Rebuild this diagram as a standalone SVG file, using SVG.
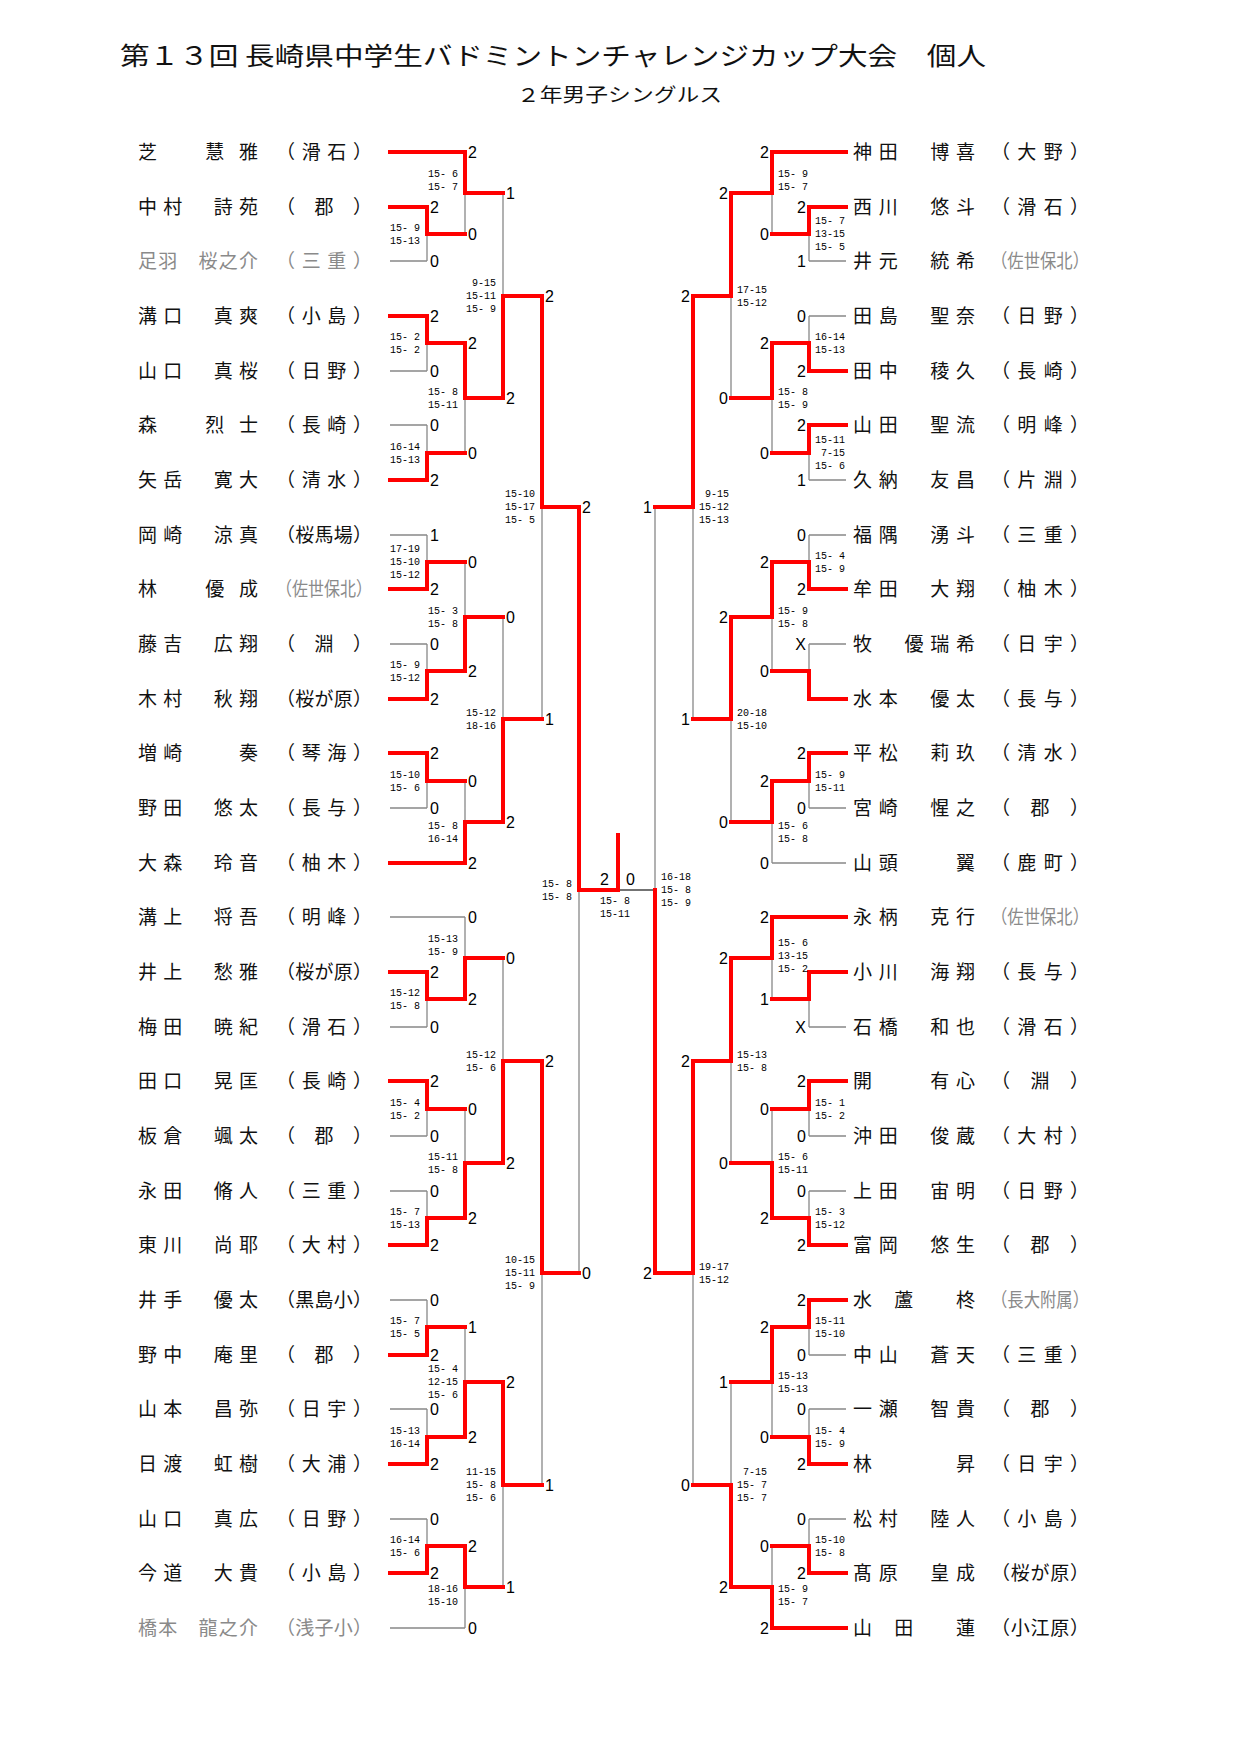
<svg xmlns="http://www.w3.org/2000/svg" width="1241" height="1755" viewBox="0 0 1241 1755">
<style>
.bg{fill:#fff}
.r{stroke:#f00;stroke-width:4;fill:none;stroke-linecap:square}
.g{stroke:#888;stroke-width:1.3;fill:none}
.k{stroke:#444;stroke-width:1.3;fill:none}
.n{font-family:"Noto Sans CJK JP","Noto Sans",sans-serif;font-size:19px;fill:#111}
.gy{fill:#8a8a8a}
.d{font-family:"Liberation Sans",Arial,sans-serif;font-size:16px;fill:#000}
.de{font-family:"Liberation Sans",Arial,sans-serif;font-size:16px;fill:#000;text-anchor:end}
.s{font-family:"Liberation Mono","DejaVu Sans Mono",monospace;font-size:10px;fill:#000;white-space:pre}
.se{font-family:"Liberation Mono","DejaVu Sans Mono",monospace;font-size:10px;fill:#000;white-space:pre;text-anchor:end}
.t{font-family:"Noto Sans CJK JP","Noto Sans",sans-serif;fill:#111}
</style>
<rect class="bg" width="1241" height="1755"/>
<text class="t" x="120" y="65" font-size="25" textLength="866" lengthAdjust="spacingAndGlyphs">第１３回 長崎県中学生バドミントンチャレンジカップ大会　個人</text>
<text class="t" x="517" y="102" font-size="19" textLength="205" lengthAdjust="spacingAndGlyphs">２年男子シングルス</text>
<g id="connectors">
<path class="g" d="M390 261H427M390 371H427M390 425H427M390 535H427M390 644H427M390 808H427M390 1027H427M390 1136H427M390 1191H427M390 1300H427M390 1409H427M390 1519H427M390 917H465M390 1628H465
M427 234V261M427 343V371M427 453V425M427 562V535M427 671V644M427 781V808M427 999V1027M427 1109V1136M427 1218V1191M427 1327V1300M427 1437V1409M427 1546V1519
M465 193V234M465 398V453M465 617V562M465 822V781M465 958V917M465 1163V1109M465 1382V1327M465 1587V1628
M503 296V193M503 719V617M503 1061V958M503 1485V1587M542 507V719M542 1273V1485M579 890V1273"/>
<path class="g" d="M846 261H809M846 316H809M846 480H809M846 535H809M846 644H809M846 808H809M846 1027H809M846 1136H809M846 1191H809M846 1355H809M846 1409H809M846 1519H809M846 863H772
M809 234V261M809 343V316M809 453V480M809 562V535M809 671V644M809 781V808M809 999V1027M809 1109V1136M809 1218V1191M809 1327V1355M809 1437V1409M809 1546V1519
M772 193V234M772 398V453M772 617V671M772 822V863M772 958V999M772 1163V1109M772 1382V1437M772 1587V1546
M731 296V398M731 719V822M731 1061V1163M731 1485V1382M693 507V719M693 1273V1485M655 890V507"/>
<path class="k" d="M618 890H655"/>
<path class="r" d="M390 152H465M390 207H427M390 316H427M390 480H427M390 589H427M390 699H427M390 753H427M390 863H465M390 972H427M390 1081H427M390 1245H427M390 1355H427M390 1464H427M390 1573H427
M427 234H465M427 343H465M427 453H465M427 562H465M427 671H465M427 781H465M427 999H465M427 1109H465M427 1218H465M427 1327H465M427 1437H465M427 1546H465
M465 193H503M465 398H503M465 617H503M465 822H503M465 958H503M465 1163H503M465 1382H503M465 1587H503
M503 296H542M503 719H542M503 1061H542M503 1485H542M542 507H579M542 1273H579M579 890H618V835
M427 207V234M427 316V343M427 480V453M427 589V562M427 699V671M427 753V781M427 972V999M427 1081V1109M427 1245V1218M427 1355V1327M427 1464V1437M427 1573V1546
M465 152V193M465 343V398M465 671V617M465 863V822M465 999V958M465 1218V1163M465 1437V1382M465 1546V1587
M503 398V296M503 822V719M503 1163V1061M503 1382V1485M542 296V507M542 1061V1273M579 507V890"/>
<path class="r" d="M846 152H772M846 207H809M846 371H809M846 425H809M846 589H809M846 699H809M846 753H809M846 917H772M846 972H809M846 1081H809M846 1245H809M846 1300H809M846 1464H809M846 1573H809M846 1628H772
M809 234H772M809 343H772M809 453H772M809 562H772M809 671H772M809 781H772M809 999H772M809 1109H772M809 1218H772M809 1327H772M809 1437H772M809 1546H772
M772 193H731M772 398H731M772 617H731M772 822H731M772 958H731M772 1163H731M772 1382H731M772 1587H731
M731 296H693M731 719H693M731 1061H693M731 1485H693M693 507H655M693 1273H655
M809 207V234M809 371V343M809 425V453M809 589V562M809 699V671M809 753V781M809 972V999M809 1081V1109M809 1245V1218M809 1300V1327M809 1464V1437M809 1573V1546
M772 152V193M772 343V398M772 562V617M772 781V822M772 917V958M772 1218V1163M772 1327V1382M772 1628V1587
M731 193V296M731 617V719M731 958V1061M731 1587V1485M693 296V507M693 1061V1273M655 1273V890"/>
</g>
<g id="left-players">
<g id="L0"><text class="n" x="138" y="159" textLength="120" lengthAdjust="spacing">芝　慧雅</text><text class="n" x="276" y="159" textLength="96" lengthAdjust="spacing">（滑石）</text></g>
<g id="L1"><text class="n" x="138" y="214" textLength="120" lengthAdjust="spacing">中村　詩苑</text><text class="n" x="276" y="214" textLength="96" lengthAdjust="spacing">（郡）</text></g>
<g id="L2"><text class="n gy" x="138" y="268" textLength="120" lengthAdjust="spacing">足羽　桜之介</text><text class="n gy" x="276" y="268" textLength="96" lengthAdjust="spacing">（三重）</text></g>
<g id="L3"><text class="n" x="138" y="323" textLength="120" lengthAdjust="spacing">溝口　真爽</text><text class="n" x="276" y="323" textLength="96" lengthAdjust="spacing">（小島）</text></g>
<g id="L4"><text class="n" x="138" y="378" textLength="120" lengthAdjust="spacing">山口　真桜</text><text class="n" x="276" y="378" textLength="96" lengthAdjust="spacing">（日野）</text></g>
<g id="L5"><text class="n" x="138" y="432" textLength="120" lengthAdjust="spacing">森　烈士</text><text class="n" x="276" y="432" textLength="96" lengthAdjust="spacing">（長崎）</text></g>
<g id="L6"><text class="n" x="138" y="487" textLength="120" lengthAdjust="spacing">矢岳　寛大</text><text class="n" x="276" y="487" textLength="96" lengthAdjust="spacing">（清水）</text></g>
<g id="L7"><text class="n" x="138" y="542" textLength="120" lengthAdjust="spacing">岡崎　涼真</text><text class="n" x="276" y="542" textLength="96" lengthAdjust="spacing">（桜馬場）</text></g>
<g id="L8"><text class="n" x="138" y="596" textLength="120" lengthAdjust="spacing">林　優成</text><text class="n gy" x="276" y="596" textLength="96" lengthAdjust="spacingAndGlyphs">（佐世保北）</text></g>
<g id="L9"><text class="n" x="138" y="651" textLength="120" lengthAdjust="spacing">藤吉　広翔</text><text class="n" x="276" y="651" textLength="96" lengthAdjust="spacing">（淵）</text></g>
<g id="L10"><text class="n" x="138" y="706" textLength="120" lengthAdjust="spacing">木村　秋翔</text><text class="n" x="276" y="706" textLength="96" lengthAdjust="spacing">（桜が原）</text></g>
<g id="L11"><text class="n" x="138" y="760" textLength="120" lengthAdjust="spacing">増崎　　奏</text><text class="n" x="276" y="760" textLength="96" lengthAdjust="spacing">（琴海）</text></g>
<g id="L12"><text class="n" x="138" y="815" textLength="120" lengthAdjust="spacing">野田　悠太</text><text class="n" x="276" y="815" textLength="96" lengthAdjust="spacing">（長与）</text></g>
<g id="L13"><text class="n" x="138" y="870" textLength="120" lengthAdjust="spacing">大森　玲音</text><text class="n" x="276" y="870" textLength="96" lengthAdjust="spacing">（柚木）</text></g>
<g id="L14"><text class="n" x="138" y="924" textLength="120" lengthAdjust="spacing">溝上　将吾</text><text class="n" x="276" y="924" textLength="96" lengthAdjust="spacing">（明峰）</text></g>
<g id="L15"><text class="n" x="138" y="979" textLength="120" lengthAdjust="spacing">井上　愁雅</text><text class="n" x="276" y="979" textLength="96" lengthAdjust="spacing">（桜が原）</text></g>
<g id="L16"><text class="n" x="138" y="1034" textLength="120" lengthAdjust="spacing">梅田　暁紀</text><text class="n" x="276" y="1034" textLength="96" lengthAdjust="spacing">（滑石）</text></g>
<g id="L17"><text class="n" x="138" y="1088" textLength="120" lengthAdjust="spacing">田口　晃匡</text><text class="n" x="276" y="1088" textLength="96" lengthAdjust="spacing">（長崎）</text></g>
<g id="L18"><text class="n" x="138" y="1143" textLength="120" lengthAdjust="spacing">板倉　颯太</text><text class="n" x="276" y="1143" textLength="96" lengthAdjust="spacing">（郡）</text></g>
<g id="L19"><text class="n" x="138" y="1198" textLength="120" lengthAdjust="spacing">永田　脩人</text><text class="n" x="276" y="1198" textLength="96" lengthAdjust="spacing">（三重）</text></g>
<g id="L20"><text class="n" x="138" y="1252" textLength="120" lengthAdjust="spacing">東川　尚耶</text><text class="n" x="276" y="1252" textLength="96" lengthAdjust="spacing">（大村）</text></g>
<g id="L21"><text class="n" x="138" y="1307" textLength="120" lengthAdjust="spacing">井手　優太</text><text class="n" x="276" y="1307" textLength="96" lengthAdjust="spacing">（黒島小）</text></g>
<g id="L22"><text class="n" x="138" y="1362" textLength="120" lengthAdjust="spacing">野中　庵里</text><text class="n" x="276" y="1362" textLength="96" lengthAdjust="spacing">（郡）</text></g>
<g id="L23"><text class="n" x="138" y="1416" textLength="120" lengthAdjust="spacing">山本　昌弥</text><text class="n" x="276" y="1416" textLength="96" lengthAdjust="spacing">（日宇）</text></g>
<g id="L24"><text class="n" x="138" y="1471" textLength="120" lengthAdjust="spacing">日渡　虹樹</text><text class="n" x="276" y="1471" textLength="96" lengthAdjust="spacing">（大浦）</text></g>
<g id="L25"><text class="n" x="138" y="1526" textLength="120" lengthAdjust="spacing">山口　真広</text><text class="n" x="276" y="1526" textLength="96" lengthAdjust="spacing">（日野）</text></g>
<g id="L26"><text class="n" x="138" y="1580" textLength="120" lengthAdjust="spacing">今道　大貴</text><text class="n" x="276" y="1580" textLength="96" lengthAdjust="spacing">（小島）</text></g>
<g id="L27"><text class="n gy" x="138" y="1635" textLength="120" lengthAdjust="spacing">橋本　龍之介</text><text class="n gy" x="276" y="1635" textLength="96" lengthAdjust="spacing">（浅子小）</text></g>
</g>
<g id="right-players">
<g id="R0"><text class="n" x="853" y="159" textLength="122" lengthAdjust="spacing">神田　博喜</text><text class="n" x="991" y="159" textLength="98" lengthAdjust="spacing">（大野）</text></g>
<g id="R1"><text class="n" x="853" y="214" textLength="122" lengthAdjust="spacing">西川　悠斗</text><text class="n" x="991" y="214" textLength="98" lengthAdjust="spacing">（滑石）</text></g>
<g id="R2"><text class="n" x="853" y="268" textLength="122" lengthAdjust="spacing">井元　統希</text><text class="n gy" x="991" y="268" textLength="98" lengthAdjust="spacingAndGlyphs">（佐世保北）</text></g>
<g id="R3"><text class="n" x="853" y="323" textLength="122" lengthAdjust="spacing">田島　聖奈</text><text class="n" x="991" y="323" textLength="98" lengthAdjust="spacing">（日野）</text></g>
<g id="R4"><text class="n" x="853" y="378" textLength="122" lengthAdjust="spacing">田中　稜久</text><text class="n" x="991" y="378" textLength="98" lengthAdjust="spacing">（長崎）</text></g>
<g id="R5"><text class="n" x="853" y="432" textLength="122" lengthAdjust="spacing">山田　聖流</text><text class="n" x="991" y="432" textLength="98" lengthAdjust="spacing">（明峰）</text></g>
<g id="R6"><text class="n" x="853" y="487" textLength="122" lengthAdjust="spacing">久納　友昌</text><text class="n" x="991" y="487" textLength="98" lengthAdjust="spacing">（片淵）</text></g>
<g id="R7"><text class="n" x="853" y="542" textLength="122" lengthAdjust="spacing">福隅　湧斗</text><text class="n" x="991" y="542" textLength="98" lengthAdjust="spacing">（三重）</text></g>
<g id="R8"><text class="n" x="853" y="596" textLength="122" lengthAdjust="spacing">牟田　大翔</text><text class="n" x="991" y="596" textLength="98" lengthAdjust="spacing">（柚木）</text></g>
<g id="R9"><text class="n" x="853" y="651" textLength="122" lengthAdjust="spacing">牧　優瑞希</text><text class="n" x="991" y="651" textLength="98" lengthAdjust="spacing">（日宇）</text></g>
<g id="R10"><text class="n" x="853" y="706" textLength="122" lengthAdjust="spacing">水本　優太</text><text class="n" x="991" y="706" textLength="98" lengthAdjust="spacing">（長与）</text></g>
<g id="R11"><text class="n" x="853" y="760" textLength="122" lengthAdjust="spacing">平松　莉玖</text><text class="n" x="991" y="760" textLength="98" lengthAdjust="spacing">（清水）</text></g>
<g id="R12"><text class="n" x="853" y="815" textLength="122" lengthAdjust="spacing">宮崎　惺之</text><text class="n" x="991" y="815" textLength="98" lengthAdjust="spacing">（郡）</text></g>
<g id="R13"><text class="n" x="853" y="870" textLength="122" lengthAdjust="spacing">山頭　　翼</text><text class="n" x="991" y="870" textLength="98" lengthAdjust="spacing">（鹿町）</text></g>
<g id="R14"><text class="n" x="853" y="924" textLength="122" lengthAdjust="spacing">永柄　克行</text><text class="n gy" x="991" y="924" textLength="98" lengthAdjust="spacingAndGlyphs">（佐世保北）</text></g>
<g id="R15"><text class="n" x="853" y="979" textLength="122" lengthAdjust="spacing">小川　海翔</text><text class="n" x="991" y="979" textLength="98" lengthAdjust="spacing">（長与）</text></g>
<g id="R16"><text class="n" x="853" y="1034" textLength="122" lengthAdjust="spacing">石橋　和也</text><text class="n" x="991" y="1034" textLength="98" lengthAdjust="spacing">（滑石）</text></g>
<g id="R17"><text class="n" x="853" y="1088" textLength="122" lengthAdjust="spacing">開　　有心</text><text class="n" x="991" y="1088" textLength="98" lengthAdjust="spacing">（淵）</text></g>
<g id="R18"><text class="n" x="853" y="1143" textLength="122" lengthAdjust="spacing">沖田　俊蔵</text><text class="n" x="991" y="1143" textLength="98" lengthAdjust="spacing">（大村）</text></g>
<g id="R19"><text class="n" x="853" y="1198" textLength="122" lengthAdjust="spacing">上田　宙明</text><text class="n" x="991" y="1198" textLength="98" lengthAdjust="spacing">（日野）</text></g>
<g id="R20"><text class="n" x="853" y="1252" textLength="122" lengthAdjust="spacing">富岡　悠生</text><text class="n" x="991" y="1252" textLength="98" lengthAdjust="spacing">（郡）</text></g>
<g id="R21"><text class="n" x="853" y="1307" textLength="122" lengthAdjust="spacing">水　蘆　　柊</text><text class="n gy" x="991" y="1307" textLength="98" lengthAdjust="spacingAndGlyphs">（長大附属）</text></g>
<g id="R22"><text class="n" x="853" y="1362" textLength="122" lengthAdjust="spacing">中山　蒼天</text><text class="n" x="991" y="1362" textLength="98" lengthAdjust="spacing">（三重）</text></g>
<g id="R23"><text class="n" x="853" y="1416" textLength="122" lengthAdjust="spacing">一瀬　智貴</text><text class="n" x="991" y="1416" textLength="98" lengthAdjust="spacing">（郡）</text></g>
<g id="R24"><text class="n" x="853" y="1471" textLength="122" lengthAdjust="spacing">林　昇</text><text class="n" x="991" y="1471" textLength="98" lengthAdjust="spacing">（日宇）</text></g>
<g id="R25"><text class="n" x="853" y="1526" textLength="122" lengthAdjust="spacing">松村　陸人</text><text class="n" x="991" y="1526" textLength="98" lengthAdjust="spacing">（小島）</text></g>
<g id="R26"><text class="n" x="853" y="1580" textLength="122" lengthAdjust="spacing">髙原　皇成</text><text class="n" x="991" y="1580" textLength="98" lengthAdjust="spacing">（桜が原）</text></g>
<g id="R27"><text class="n" x="853" y="1635" textLength="122" lengthAdjust="spacing">山　田　　蓮</text><text class="n" x="991" y="1635" textLength="98" lengthAdjust="spacing">（小江原）</text></g>
</g>
<g id="games-won">
<text class="d" x="468" y="158">2</text><text class="d" x="468" y="869">2</text><text class="d" x="468" y="923">0</text><text class="d" x="468" y="1634">0</text>
<text class="d" x="430" y="213">2</text><text class="d" x="430" y="267">0</text><text class="d" x="430" y="322">2</text><text class="d" x="430" y="377">0</text><text class="d" x="430" y="431">0</text><text class="d" x="430" y="486">2</text><text class="d" x="430" y="541">1</text><text class="d" x="430" y="595">2</text><text class="d" x="430" y="650">0</text><text class="d" x="430" y="705">2</text><text class="d" x="430" y="759">2</text><text class="d" x="430" y="814">0</text><text class="d" x="430" y="978">2</text><text class="d" x="430" y="1033">0</text><text class="d" x="430" y="1087">2</text><text class="d" x="430" y="1142">0</text><text class="d" x="430" y="1197">0</text><text class="d" x="430" y="1251">2</text><text class="d" x="430" y="1306">0</text><text class="d" x="430" y="1361">2</text><text class="d" x="430" y="1415">0</text><text class="d" x="430" y="1470">2</text><text class="d" x="430" y="1525">0</text><text class="d" x="430" y="1579">2</text>
<text class="d" x="468" y="240">0</text><text class="d" x="468" y="349">2</text><text class="d" x="468" y="459">0</text><text class="d" x="468" y="568">0</text><text class="d" x="468" y="677">2</text><text class="d" x="468" y="787">0</text><text class="d" x="468" y="1005">2</text><text class="d" x="468" y="1115">0</text><text class="d" x="468" y="1224">2</text><text class="d" x="468" y="1333">1</text><text class="d" x="468" y="1443">2</text><text class="d" x="468" y="1552">2</text>
<text class="d" x="506" y="199">1</text><text class="d" x="506" y="404">2</text><text class="d" x="506" y="623">0</text><text class="d" x="506" y="828">2</text><text class="d" x="506" y="964">0</text><text class="d" x="506" y="1169">2</text><text class="d" x="506" y="1388">2</text><text class="d" x="506" y="1593">1</text>
<text class="d" x="545" y="302">2</text><text class="d" x="545" y="725">1</text><text class="d" x="545" y="1067">2</text><text class="d" x="545" y="1491">1</text>
<text class="d" x="582" y="513">2</text><text class="d" x="582" y="1279">0</text>
<text class="d" x="600" y="885">2</text><text class="d" x="626" y="885">0</text>
<text class="de" x="769" y="158">2</text><text class="de" x="769" y="869">0</text><text class="de" x="769" y="923">2</text><text class="de" x="769" y="1634">2</text>
<text class="de" x="806" y="213">2</text><text class="de" x="806" y="267">1</text><text class="de" x="806" y="322">0</text><text class="de" x="806" y="377">2</text><text class="de" x="806" y="431">2</text><text class="de" x="806" y="486">1</text><text class="de" x="806" y="541">0</text><text class="de" x="806" y="595">2</text><text class="de" x="806" y="650">X</text><text class="de" x="806" y="759">2</text><text class="de" x="806" y="814">0</text><text class="de" x="806" y="1033">X</text><text class="de" x="806" y="1087">2</text><text class="de" x="806" y="1142">0</text><text class="de" x="806" y="1197">0</text><text class="de" x="806" y="1251">2</text><text class="de" x="806" y="1306">2</text><text class="de" x="806" y="1361">0</text><text class="de" x="806" y="1415">0</text><text class="de" x="806" y="1470">2</text><text class="de" x="806" y="1525">0</text><text class="de" x="806" y="1579">2</text>
<text class="de" x="769" y="240">0</text><text class="de" x="769" y="349">2</text><text class="de" x="769" y="459">0</text><text class="de" x="769" y="568">2</text><text class="de" x="769" y="677">0</text><text class="de" x="769" y="787">2</text><text class="de" x="769" y="1005">1</text><text class="de" x="769" y="1115">0</text><text class="de" x="769" y="1224">2</text><text class="de" x="769" y="1333">2</text><text class="de" x="769" y="1443">0</text><text class="de" x="769" y="1552">0</text>
<text class="de" x="728" y="199">2</text><text class="de" x="728" y="404">0</text><text class="de" x="728" y="623">2</text><text class="de" x="728" y="828">0</text><text class="de" x="728" y="964">2</text><text class="de" x="728" y="1169">0</text><text class="de" x="728" y="1388">1</text><text class="de" x="728" y="1593">2</text>
<text class="de" x="690" y="302">2</text><text class="de" x="690" y="725">1</text><text class="de" x="690" y="1067">2</text><text class="de" x="690" y="1491">0</text>
<text class="de" x="652" y="513">1</text><text class="de" x="652" y="1279">2</text>
</g>
<g id="game-scores">
<text class="se" x="420" y="230.5">15- 9<tspan x="420" dy="13">15-13</tspan></text>
<text class="se" x="420" y="339.5">15- 2<tspan x="420" dy="13">15- 2</tspan></text>
<text class="se" x="420" y="449.5">16-14<tspan x="420" dy="13">15-13</tspan></text>
<text class="se" x="420" y="552">17-19<tspan x="420" dy="13">15-10</tspan><tspan x="420" dy="13">15-12</tspan></text>
<text class="se" x="420" y="667.5">15- 9<tspan x="420" dy="13">15-12</tspan></text>
<text class="se" x="420" y="777.5">15-10<tspan x="420" dy="13">15- 6</tspan></text>
<text class="se" x="420" y="995.5">15-12<tspan x="420" dy="13">15- 8</tspan></text>
<text class="se" x="420" y="1105.5">15- 4<tspan x="420" dy="13">15- 2</tspan></text>
<text class="se" x="420" y="1214.5">15- 7<tspan x="420" dy="13">15-13</tspan></text>
<text class="se" x="420" y="1323.5">15- 7<tspan x="420" dy="13">15- 5</tspan></text>
<text class="se" x="420" y="1433.5">15-13<tspan x="420" dy="13">16-14</tspan></text>
<text class="se" x="420" y="1542.5">16-14<tspan x="420" dy="13">15- 6</tspan></text>
<text class="se" x="458" y="177">15- 6<tspan x="458" dy="13">15- 7</tspan></text>
<text class="se" x="458" y="394.5">15- 8<tspan x="458" dy="13">15-11</tspan></text>
<text class="se" x="458" y="613.5">15- 3<tspan x="458" dy="13">15- 8</tspan></text>
<text class="se" x="458" y="829">15- 8<tspan x="458" dy="13">16-14</tspan></text>
<text class="se" x="458" y="942">15-13<tspan x="458" dy="13">15- 9</tspan></text>
<text class="se" x="458" y="1159.5">15-11<tspan x="458" dy="13">15- 8</tspan></text>
<text class="se" x="458" y="1372">15- 4<tspan x="458" dy="13">12-15</tspan><tspan x="458" dy="13">15- 6</tspan></text>
<text class="se" x="458" y="1592">18-16<tspan x="458" dy="13">15-10</tspan></text>
<text class="se" x="496" y="286">9-15<tspan x="496" dy="13">15-11</tspan><tspan x="496" dy="13">15- 9</tspan></text>
<text class="se" x="496" y="715.5">15-12<tspan x="496" dy="13">18-16</tspan></text>
<text class="se" x="496" y="1057.5">15-12<tspan x="496" dy="13">15- 6</tspan></text>
<text class="se" x="496" y="1475">11-15<tspan x="496" dy="13">15- 8</tspan><tspan x="496" dy="13">15- 6</tspan></text>
<text class="se" x="535" y="497">15-10<tspan x="535" dy="13">15-17</tspan><tspan x="535" dy="13">15- 5</tspan></text>
<text class="se" x="535" y="1263">10-15<tspan x="535" dy="13">15-11</tspan><tspan x="535" dy="13">15- 9</tspan></text>
<text class="se" x="572" y="886.5">15- 8<tspan x="572" dy="13">15- 8</tspan></text>
<text class="s" x="600" y="904">15- 8<tspan x="600" dy="13">15-11</tspan></text>
<text class="s" x="815" y="224">15- 7<tspan x="815" dy="13">13-15</tspan><tspan x="815" dy="13">15- 5</tspan></text>
<text class="s" x="815" y="339.5">16-14<tspan x="815" dy="13">15-13</tspan></text>
<text class="s" x="815" y="443">15-11<tspan x="815" dy="13"> 7-15</tspan><tspan x="815" dy="13">15- 6</tspan></text>
<text class="s" x="815" y="558.5">15- 4<tspan x="815" dy="13">15- 9</tspan></text>
<text class="s" x="815" y="777.5">15- 9<tspan x="815" dy="13">15-11</tspan></text>
<text class="s" x="815" y="1105.5">15- 1<tspan x="815" dy="13">15- 2</tspan></text>
<text class="s" x="815" y="1214.5">15- 3<tspan x="815" dy="13">15-12</tspan></text>
<text class="s" x="815" y="1323.5">15-11<tspan x="815" dy="13">15-10</tspan></text>
<text class="s" x="815" y="1433.5">15- 4<tspan x="815" dy="13">15- 9</tspan></text>
<text class="s" x="815" y="1542.5">15-10<tspan x="815" dy="13">15- 8</tspan></text>
<text class="s" x="778" y="177">15- 9<tspan x="778" dy="13">15- 7</tspan></text>
<text class="s" x="778" y="394.5">15- 8<tspan x="778" dy="13">15- 9</tspan></text>
<text class="s" x="778" y="613.5">15- 9<tspan x="778" dy="13">15- 8</tspan></text>
<text class="s" x="778" y="829">15- 6<tspan x="778" dy="13">15- 8</tspan></text>
<text class="s" x="778" y="946">15- 6<tspan x="778" dy="13">13-15</tspan><tspan x="778" dy="13">15- 2</tspan></text>
<text class="s" x="778" y="1159.5">15- 6<tspan x="778" dy="13">15-11</tspan></text>
<text class="s" x="778" y="1378.5">15-13<tspan x="778" dy="13">15-13</tspan></text>
<text class="s" x="778" y="1592">15- 9<tspan x="778" dy="13">15- 7</tspan></text>
<text class="s" x="737" y="292.5">17-15<tspan x="737" dy="13">15-12</tspan></text>
<text class="s" x="737" y="715.5">20-18<tspan x="737" dy="13">15-10</tspan></text>
<text class="s" x="737" y="1057.5">15-13<tspan x="737" dy="13">15- 8</tspan></text>
<text class="s" x="737" y="1475"> 7-15<tspan x="737" dy="13">15- 7</tspan><tspan x="737" dy="13">15- 7</tspan></text>
<text class="s" x="699" y="497"> 9-15<tspan x="699" dy="13">15-12</tspan><tspan x="699" dy="13">15-13</tspan></text>
<text class="s" x="699" y="1269.5">19-17<tspan x="699" dy="13">15-12</tspan></text>
<text class="s" x="661" y="880">16-18<tspan x="661" dy="13">15- 8</tspan><tspan x="661" dy="13">15- 9</tspan></text>
</g>
</svg>
